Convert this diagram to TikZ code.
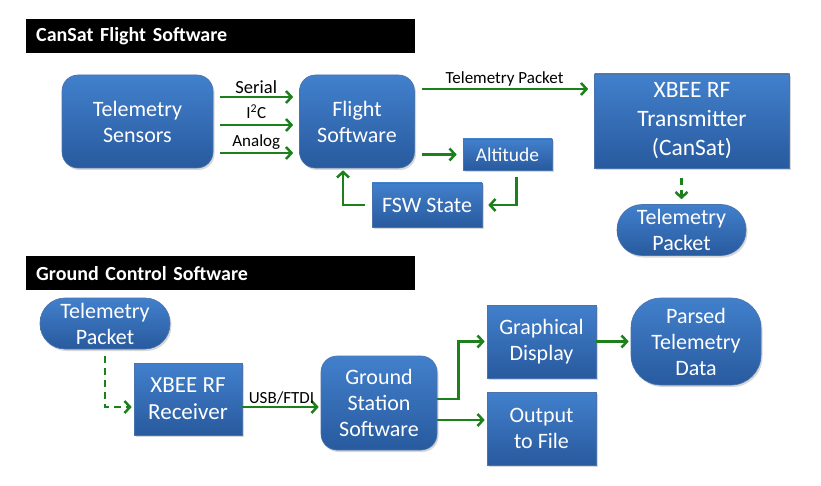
\documentclass[tikz,border=0pt]{standalone}
\usepackage{fontspec}
\setmainfont{Carlito}
\usetikzlibrary{arrows.meta, positioning, shadows}
\definecolor{boxtop}{RGB}{66,128,204}
\definecolor{boxbot}{RGB}{40,90,158}
\definecolor{flowgreen}{RGB}{28,128,28}

\begin{document}
\begin{tikzpicture}[
  x=1pt, y=-1pt,
  every node/.style={align=center},
  blockbox/.style={top color=boxtop, bottom color=boxbot, draw=boxbot!85!white, line width=0.6pt,
                   text=white, inner sep=2pt, font=\fontsize{22}{26}\selectfont,
                   drop shadow={shadow xshift=1.5pt, shadow yshift=-2pt, opacity=0.3}},
  roundbox/.style={blockbox, rounded corners=16pt},
  pillbox/.style={blockbox, rounded corners=#1},
  hdrbar/.style={fill=black, text=white, anchor=north west, font=\fontsize{20}{22}\selectfont\bfseries,
                 minimum height=34pt, text width=369pt, inner xsep=10pt, align=left},
  flowarrow/.style={-{Straight Barb[length=5.5pt,width=12pt]}, draw=flowgreen, line width=2.5pt,
                    shorten >=2pt},
  spaced/.style={shorten <=7pt, shorten >=6pt},
  dasharrow/.style={flowarrow, dash pattern=on 7pt off 5pt},
  arrlbl/.style={font=\fontsize{17}{19}\selectfont, midway, above, inner sep=2pt},
]
\useasboundingbox[fill=white] (0,0) rectangle (821,486);

%% CanSat flight software
\node[hdrbar] (hdrfsw) at (26,19) {CanSat Flight Software};

\node[roundbox, minimum width=151pt, minimum height=93pt] (sensors) at (137.5,121.5)
  {Telemetry\\Sensors};
\node[roundbox, minimum width=115pt, minimum height=93pt] (flight) at (357,121.5)
  {Flight\\Software};
\node[blockbox, minimum width=195pt, minimum height=94pt, font=\fontsize{23.5}{29}\selectfont]
  (xbeetx) at (692,121) {XBEE RF\\Transmitter\\(CanSat)};
\node[pillbox=25pt, minimum width=129pt, minimum height=51pt] (pkttx) at (681.5,230)
  {Telemetry\\Packet};
\node[blockbox, minimum width=89pt, minimum height=31pt, font=\fontsize{19.5}{22}\selectfont]
  (altitude) at (507.5,154.5) {Altitude};
\node[blockbox, minimum width=110pt, minimum height=44pt] (fsw) at (427,205) {FSW State};

%% Ground control software
\node[hdrbar] (hdrgcs) at (26,256) {Ground Control Software};

\node[pillbox=25pt, minimum width=130pt, minimum height=51pt] (pktgs) at (105,323.5)
  {Telemetry\\Packet};
\node[blockbox, minimum width=108pt, minimum height=72pt, font=\fontsize{23}{27}\selectfont]
  (rx) at (188,399) {XBEE RF\\Receiver};
\node[roundbox, minimum width=116pt, minimum height=94pt] (gs) at (379,403)
  {Ground\\Station\\Software};
\node[blockbox, minimum width=109pt, minimum height=73pt] (graph) at (541.5,341.5)
  {Graphical\\Display};
\node[blockbox, minimum width=109pt, minimum height=73pt] (output) at (541.5,428.5)
  {Output\\to File};
\node[pillbox=30pt, minimum width=130pt, minimum height=87pt] (parsed) at (696,341.5)
  {Parsed\\Telemetry\\Data};

%% Arrows
\draw[flowarrow, spaced] ([yshift=24.5pt]sensors.east) -- ([yshift=24.5pt]flight.west)
  node[arrlbl, font=\fontsize{18.5}{20}\selectfont]{Serial};
\draw[flowarrow, spaced] ([yshift=-3.5pt]sensors.east) -- ([yshift=-3.5pt]flight.west)
  node[arrlbl, yshift=3pt]{I\textsuperscript{2}C};
\draw[flowarrow, spaced] ([yshift=-31.5pt]sensors.east) -- ([yshift=-31.5pt]flight.west)
  node[arrlbl]{Analog};
\draw[flowarrow, spaced] ([yshift=32.5pt]flight.east) -- ([yshift=32.5pt]flight.east -| xbeetx.west)
  node[arrlbl]{Telemetry Packet};
\draw[flowarrow, spaced] (flight.east |- altitude.west) -- (altitude.west);
\draw[flowarrow, spaced] ([xshift=9pt]altitude.south) |- (fsw.east);
\draw[flowarrow, shorten <=7pt] (fsw.west) -| ([xshift=-14pt]flight.south);
\draw[dasharrow, shorten <=10pt, shorten >=5pt] (pkttx.north |- xbeetx.south) -- (pkttx.north);

\draw[dasharrow, shorten <=7pt] (pktgs.south) |- ([yshift=-8pt]rx.west);
\draw[flowarrow] ([yshift=-8pt]rx.east) -- ([yshift=-8pt]rx.east -| gs.west)
  node[arrlbl]{USB/FTDI};
\draw[flowarrow] ([yshift=4pt]gs.east) -- ++(21,0) |- (graph.west);
\draw[flowarrow] ([yshift=-17pt]gs.east) -- ([yshift=-17pt]gs.east -| output.west);
\draw[flowarrow] (graph.east) -- (parsed.west);

\end{tikzpicture}
\end{document}
